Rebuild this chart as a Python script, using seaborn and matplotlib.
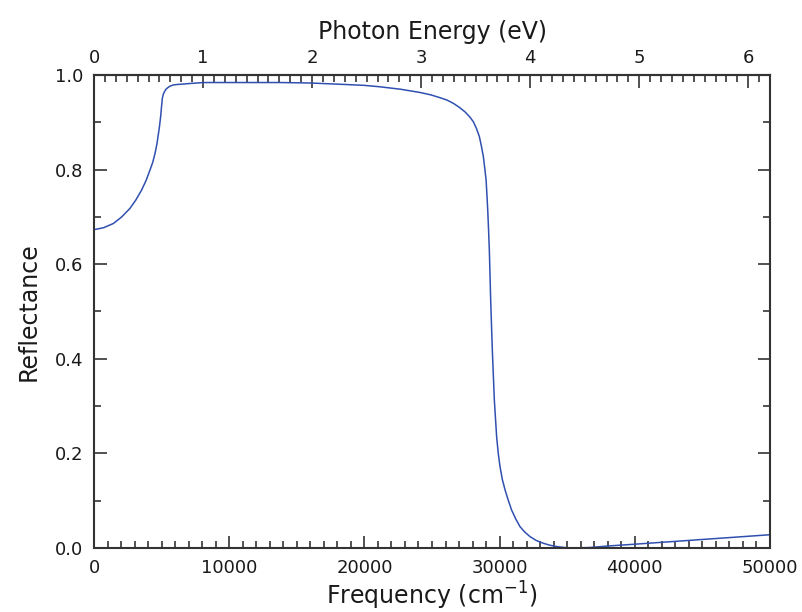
import numpy as np
import pandas as pd
import matplotlib
matplotlib.use("Agg")
import matplotlib.pyplot as plt
from matplotlib.ticker import MultipleLocator, FixedLocator, FormatStrFormatter
import seaborn as sns

# Reflectance spectrum sampled along frequency (cm^-1)
frequency = [0, 700, 1430, 2050, 2660, 3100, 3525, 3850, 4140, 4350, 4510, 4650, 4760,
             4850, 4930, 4990, 5050, 5120, 5200, 5325, 5450, 5600, 5870, 6200, 6700,
             7100, 8085, 10000, 13760, 16000, 18500, 20000, 21150, 22630, 24110, 24900,
             25590, 26100, 26580, 27000, 27440, 27800, 28060, 28300, 28500, 28650,
             28800, 28900, 29000, 29060, 29120, 29180, 29240, 29340, 29460, 29610,
             29780, 29900, 30030, 30200, 30400, 30650, 30890, 31200, 31510, 31850,
             32250, 32700, 33230, 33700, 34220, 34800, 35450, 36690, 37920, 40000,
             42500, 45000, 47500, 50000]
reflectance = [0.673, 0.677, 0.686, 0.700, 0.718, 0.736, 0.757, 0.777, 0.799, 0.816,
               0.834, 0.854, 0.875, 0.893, 0.913, 0.932, 0.950, 0.959, 0.964, 0.970,
               0.973, 0.976, 0.979, 0.980, 0.981, 0.982, 0.984, 0.984, 0.984, 0.983,
               0.980, 0.978, 0.975, 0.970, 0.963, 0.958, 0.952, 0.947, 0.940, 0.932,
               0.922, 0.911, 0.901, 0.886, 0.870, 0.850, 0.827, 0.803, 0.778, 0.748,
               0.715, 0.675, 0.630, 0.524, 0.419, 0.313, 0.235, 0.200, 0.172, 0.145,
               0.123, 0.100, 0.080, 0.061, 0.045, 0.034, 0.024, 0.016, 0.010, 0.006,
               0.003, 0.001, 0.000, 0.001, 0.004, 0.008, 0.013, 0.018, 0.023, 0.028]

energy_ticks = [0, 1, 2, 3, 4, 5, 6]

CM_PER_EV = 8065.54

df = pd.DataFrame({"Frequency": frequency, "Reflectance": reflectance})

sns.set_theme(style="ticks")
plt.rcParams["font.family"] = ["DejaVu Sans"]
ink = "#1a1a1a"
plt.rcParams.update({"text.color": ink, "axes.labelcolor": ink,
                     "xtick.color": ink, "ytick.color": ink})

fig = plt.figure(figsize=(8.03, 6.12), dpi=100)
ax = fig.add_axes([0.1171, 0.1046, 0.8418, 0.7729])

sns.lineplot(data=df, x="Frequency", y="Reflectance", ax=ax,
             color="#3050b0", linewidth=1.1)

ax.set_xlim(0, 50000)
ax.set_ylim(0, 1.0)
ax.xaxis.set_major_locator(MultipleLocator(10000))
ax.xaxis.set_minor_locator(MultipleLocator(1000))
ax.yaxis.set_major_locator(MultipleLocator(0.2))
ax.yaxis.set_minor_locator(MultipleLocator(0.1))
ax.yaxis.set_major_formatter(FormatStrFormatter("%.1f"))

ax.set_xlabel("Frequency (cm$^{-1}$)", fontsize=17, labelpad=2)
ax.set_ylabel("Reflectance", fontsize=17, labelpad=10)

spine_color = "#333333"
for s in ax.spines.values():
    s.set_color(spine_color)
    s.set_linewidth(1.5)

ax.tick_params(which="both", direction="in", top=False, right=True,
               color=spine_color, width=1.2, labelsize=13)
ax.tick_params(which="major", length=9, pad=8)
ax.tick_params(which="minor", length=5)

# Photon energy scale along the top
sec = ax.secondary_xaxis("top", functions=(lambda f: f / CM_PER_EV,
                                          lambda e: e * CM_PER_EV))
sec.xaxis.set_major_locator(FixedLocator(energy_ticks))
sec.xaxis.set_major_formatter(FormatStrFormatter("%d"))
sec.xaxis.set_minor_locator(MultipleLocator(0.1))
sec.tick_params(which="both", direction="in", color=spine_color, width=1.2,
                labelsize=13)
sec.tick_params(which="major", length=9, pad=6)
sec.tick_params(which="minor", length=5)
sec.spines["top"].set_color(spine_color)
sec.spines["top"].set_linewidth(1.5)
sec.set_xlabel("Photon Energy (eV)", fontsize=17, labelpad=7)

fig.savefig("out.png", dpi=100)
